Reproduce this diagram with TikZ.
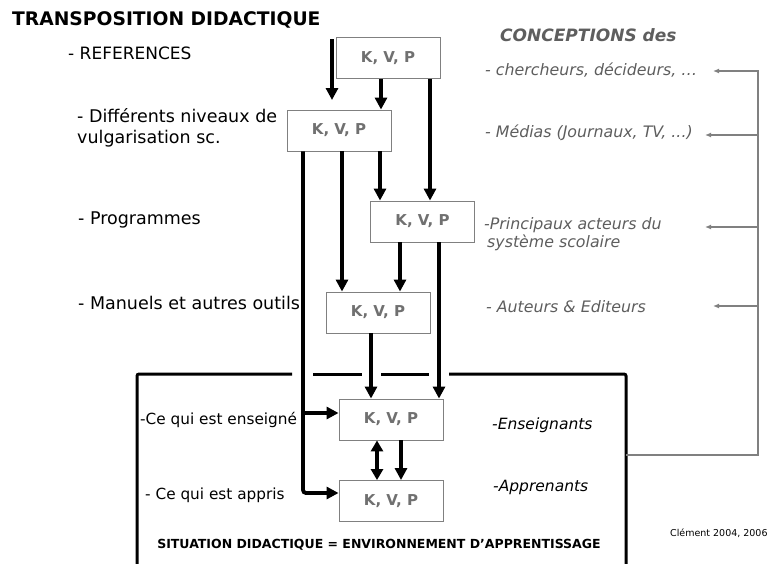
\documentclass[tikz,border=0pt]{standalone}
\usepackage{fontspec}
\setmainfont{DejaVu Sans}
\usetikzlibrary{arrows.meta}
\definecolor{kvpgray}{HTML}{707070}
\definecolor{concgray}{HTML}{5E5E5E}
\definecolor{boxgray}{HTML}{808080}
\tikzset{
  kvp/.style={draw=boxgray, line width=0.9pt, minimum width=104pt, minimum height=41pt,
    inner sep=0pt, font=\fontsize{15}{17}\selectfont\bfseries, text=kvpgray},
  flow/.style={line width=3.8pt, -{Triangle[width=12pt,length=12pt]}},
  dflow/.style={line width=3.8pt, {Triangle[width=12pt,length=11pt]}-{Triangle[width=12pt,length=11pt]}},
  bigbox/.style={line width=3pt, rounded corners=2pt},
  bracket/.style={draw=boxgray, line width=1.2pt},
  barrow/.style={bracket, -{Latex[length=6pt,width=5pt]}},
  lefttxt/.style={anchor=west, inner sep=0pt, font=\fontsize{17.5}{21}\selectfont, align=left},
  midtxt/.style={anchor=west, inner sep=0pt, font=\fontsize{15.3}{18}\selectfont},
  conc/.style={anchor=west, inner sep=0pt, text=concgray, font=\fontsize{15.8}{18.5}\selectfont\itshape, align=left},
}
\begin{document}
\begin{tikzpicture}[x=1pt,y=-1pt]
\clip (0,0) rectangle (780,563);
\fill[white] (0,0) rectangle (780,563);

% boxes
\node[kvp] (b1) at (388,58) {K, V, P};
\node[kvp] (b2) at (339,130.5) {K, V, P};
\node[kvp] (b3) at (422.5,221.5) {K, V, P};
\node[kvp] (b4) at (378,312.5) {K, V, P};
\node[kvp] (b5) at (391,419.5) {K, V, P};
\node[kvp] (b6) at (391,501) {K, V, P};

% big box (situation didactique)
\draw[bigbox] (137,580) -- (137,374) -- (292,374);
\draw[bigbox] (313,374) -- (362,374);
\draw[bigbox] (381,374) -- (429,374);
\draw[bigbox] (449,374) -- (626,374) -- (626,580);

% flow arrows
\coordinate (a0s) at (332,39);
\coordinate (a0e) at (332,100);
\coordinate (e5) at ([yshift=6.5pt]b5.west);
\coordinate (e6) at ([yshift=8pt]b6.west);
\coordinate (l2) at ([xshift=-36pt]b2.south);
\draw[flow] (a0s) -- (a0e);
\draw[flow] ([xshift=-7pt]b1.south) -- ([xshift=-7pt]b1.south |- b2.north);
\draw[flow] ([xshift=42pt]b1.south) -- ([xshift=42pt]b1.south |- b3.north);
\draw[flow] ([xshift=41pt]b2.south) -- ([xshift=41pt]b2.south |- b3.north);
\draw[flow] ([xshift=3pt]b2.south) -- ([xshift=3pt]b2.south |- b4.north);
\draw[flow] ([xshift=-22.5pt]b3.south) -- ([xshift=-22.5pt]b3.south |- b4.north);
\draw[flow] ([xshift=16.5pt]b3.south) -- ([xshift=16.5pt]b3.south |- b5.north);
\draw[flow] ([xshift=-7pt]b4.south) -- ([xshift=-7pt]b4.south |- b5.north);
\draw[flow, rounded corners=3pt] (l2) |- (e6);
\draw[flow] (l2 |- e5) -- (e5);
\draw[dflow] ([xshift=-14pt]b5.south) -- ([xshift=-14pt]b5.south |- b6.north);
\draw[flow] ([xshift=10pt]b5.south) -- ([xshift=10pt]b5.south |- b6.north);

% left texts
\node[anchor=west, inner sep=0pt, font=\fontsize{18.7}{22}\selectfont\bfseries] (title) at (12,20) {TRANSPOSITION DIDACTIQUE};
\node[anchor=west, inner sep=0pt, font=\fontsize{17}{20}\selectfont] (ref) at (68,53) {- REFERENCES};
\node[lefttxt] (vulg) at (77,127.5) {- Différents niveaux de\\vulgarisation sc.};
\node[lefttxt] (prog) at (78,220) {- Programmes};
\node[lefttxt] (man) at (78,303) {- Manuels et autres outils};
\node[midtxt] (ens) at (140,420) {-Ce qui est enseigné};
\node[midtxt] (app) at (145,495) {- Ce qui est appris};
\node[midtxt, font=\fontsize{15.5}{18}\selectfont\itshape] (ensg) at (492,425) {-Enseignants};
\node[midtxt, font=\fontsize{15.5}{18}\selectfont\itshape] (appr) at (493,487) {-Apprenants};
\node[anchor=center, inner sep=0pt, font=\fontsize{12.5}{15}\selectfont\bfseries] (sit) at (379,545) {SITUATION DIDACTIQUE = ENVIRONNEMENT D’APPRENTISSAGE};
\node[anchor=west, inner sep=0pt, font=\fontsize{9.5}{11}\selectfont] (clem) at (670,533) {Clément 2004, 2006};

% conceptions
\node[anchor=west, inner sep=0pt, text=concgray, font=\fontsize{17}{20}\selectfont\bfseries\itshape] (conctitle) at (500,35) {CONCEPTIONS des};
\node[conc] (c1) at (485,70) {- chercheurs, décideurs, …};
\node[conc] (c2) at (485,133) {- Médias (Journaux, TV, ...)};
\node[conc] (c3) at (484,234) {-Principaux acteurs du\\\hspace*{3pt}système scolaire};
\node[conc] (c4) at (486,307) {- Auteurs \& Editeurs};

% right bracket
\coordinate (r0) at (626,455);
\coordinate (r1) at (758,455);
\coordinate (r2) at (758,71);
\coordinate (t1) at (713,71);
\coordinate (s2) at (758,135);
\coordinate (t2) at (705,135);
\coordinate (s3) at (758,227);
\coordinate (t3) at (705,227);
\coordinate (s4) at (758,306);
\coordinate (t4) at (713,306);
\draw[barrow] (r0) -- (r1) -- (r2) -- (t1);
\draw[barrow] (s2) -- (t2);
\draw[barrow] (s3) -- (t3);
\draw[barrow] (s4) -- (t4);
\end{tikzpicture}
\end{document}
